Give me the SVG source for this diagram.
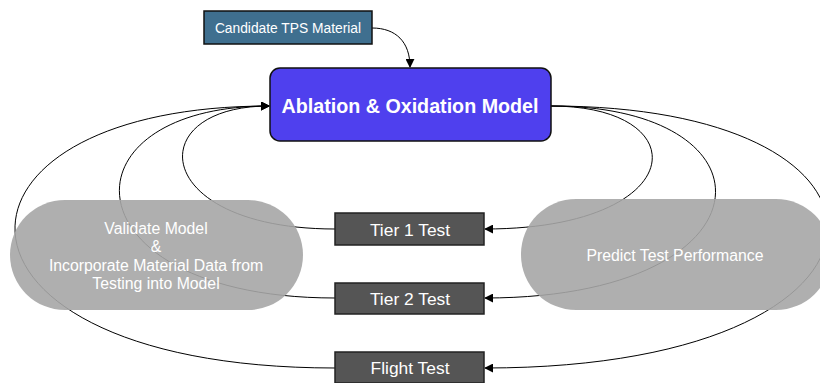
<svg xmlns="http://www.w3.org/2000/svg" width="820" height="383" viewBox="0 0 820 383">
  <defs>
    <marker id="arrow" viewBox="0 0 10 10" refX="9" refY="5" markerWidth="9" markerHeight="9" markerUnits="userSpaceOnUse" orient="auto">
      <path d="M0,0 L10,5 L0,10 z" fill="#000"/>
    </marker>
    <style>
      .lbl { font-family: "Liberation Sans", Arial, sans-serif; fill: #fff; text-anchor: middle; dominant-baseline: central; }
      .wire { fill: none; stroke: #000; stroke-width: 1; }
      .test rect { fill: #555555; stroke: #222; stroke-width: 1.5; }
      .test text { font-size: 17.4px; }
      .pill rect { fill: #a6a6a6; fill-opacity: 0.9; }
      .pill text { font-size: 15.8px; }
    </style>
  </defs>
  <rect width="820" height="383" fill="#fff"/>

  <g id="connectors">
    <path class="wire" d="M372,28 C396,28 410,42 410,67" marker-end="url(#arrow)"/>
    <path class="wire" d="M335,229 C150,229 140,106 269,106" marker-end="url(#arrow)"/>
    <path class="wire" d="M335,298 C65,298 55,106 269,106" marker-end="url(#arrow)"/>
    <path class="wire" d="M335,368 C-80,368 -80,106 269,106" marker-end="url(#arrow)"/>
    <path class="wire" d="M551,106 C700,106 690,229 485,229" marker-end="url(#arrow)"/>
    <path class="wire" d="M551,106 C785,106 775,298 485,298" marker-end="url(#arrow)"/>
    <path class="wire" d="M551,106 C935,106 925,368 485,368" marker-end="url(#arrow)"/>
  </g>

  <g id="candidate">
    <rect x="204" y="11" width="168" height="33" fill="#3f6f8f" stroke="#111" stroke-width="1.5"/>
    <text class="lbl" x="288" y="28" font-size="13.8">Candidate TPS Material</text>
  </g>

  <g id="model">
    <rect x="270" y="68" width="281" height="73" rx="10" fill="#4f40ee" stroke="#111" stroke-width="1.5"/>
    <text class="lbl" x="410" y="106" font-size="19.7" font-weight="bold">Ablation &amp; Oxidation Model</text>
  </g>

  <g id="validate" class="pill">
    <rect x="10" y="200" width="293" height="110" rx="55"/>
    <text class="lbl" x="156" y="228">Validate Model</text>
    <text class="lbl" x="156" y="246">&amp;</text>
    <text class="lbl" x="156" y="265">Incorporate Material Data from</text>
    <text class="lbl" x="156" y="283">Testing into Model</text>
  </g>

  <g id="predict" class="pill">
    <rect x="521" y="199" width="310" height="111" rx="55"/>
    <text class="lbl" x="675" y="255">Predict Test Performance</text>
  </g>

  <g id="tier1" class="test">
    <rect x="335" y="213" width="149" height="32"/>
    <text class="lbl" x="410" y="229.5">Tier 1 Test</text>
  </g>

  <g id="tier2" class="test">
    <rect x="335" y="283" width="149" height="31"/>
    <text class="lbl" x="410" y="298.5">Tier 2 Test</text>
  </g>

  <g id="flight" class="test">
    <rect x="335" y="352" width="149" height="31"/>
    <text class="lbl" x="410" y="368">Flight Test</text>
  </g>
</svg>
